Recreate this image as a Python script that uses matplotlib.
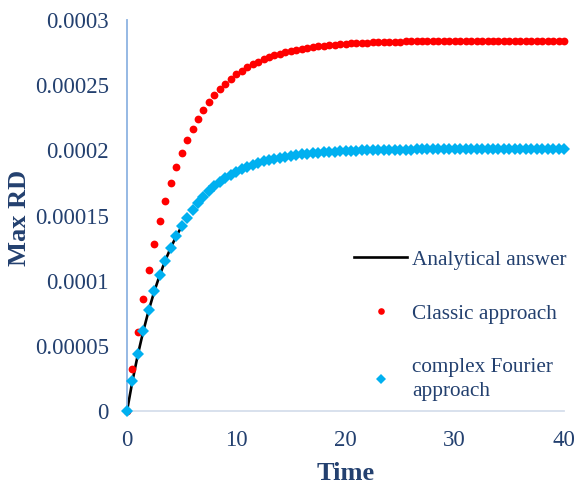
import matplotlib
matplotlib.use("Agg")
import matplotlib.pyplot as plt
import numpy as np

# Time axis (0 to 40, step 0.5)
time = np.arange(0, 40.5, 0.5)

# Classic approach, Max RD in units of 1e-6
classic_e6 = [
    0.0, 32.0, 60.4, 85.6, 108.0, 127.8, 145.5, 161.1, 175.0, 187.4,
    198.3, 208.0, 216.6, 224.2, 231.0, 237.0, 242.3, 247.0, 251.2, 254.9,
    258.2, 261.2, 263.8, 266.1, 268.1, 269.9, 271.5, 272.9, 274.1, 275.2,
    276.2, 277.1, 277.9, 278.6, 279.2, 279.8, 280.3, 280.7, 281.1, 281.5,
    281.8, 282.1, 282.3, 282.5, 282.7, 282.9, 283.0, 283.2, 283.3, 283.4,
    283.5, 283.6, 283.6, 283.7, 283.7, 283.8, 283.8, 283.8, 283.9, 283.9,
    283.9, 283.9, 284.0, 284.0, 284.0, 284.0, 284.0, 284.0, 284.1, 284.1,
    284.1, 284.1, 284.1, 284.1, 284.1, 284.1, 284.1, 284.1, 284.1, 284.1,
    284.1,
]

# Complex Fourier approach, Max RD in units of 1e-6
fourier_e6 = [
    0.0, 23.1, 43.5, 61.6, 77.6, 91.8, 104.3, 115.4, 125.2, 133.9,
    141.6, 148.4, 154.5, 159.8, 164.5, 168.7, 172.4, 175.7, 178.6, 181.2,
    183.5, 185.5, 187.3, 188.8, 190.2, 191.5, 192.6, 193.5, 194.4, 195.1,
    195.8, 196.4, 196.9, 197.4, 197.8, 198.2, 198.5, 198.8, 199.0, 199.3,
    199.5, 199.6, 199.8, 199.9, 200.1, 200.2, 200.3, 200.3, 200.4, 200.5,
    200.5, 200.6, 200.6, 200.7, 200.7, 200.7, 200.8, 200.8, 200.8, 200.8,
    200.9, 200.9, 200.9, 200.9, 200.9, 200.9, 201.0, 201.0, 201.0, 201.0,
    201.0, 201.0, 201.0, 201.0, 201.0, 201.0, 201.0, 201.0, 201.0, 201.0,
    201.0,
]

# Analytical answer (early times only)
analytic_time = [0.0, 0.5, 1.0, 1.5, 2.0, 2.5, 3.0, 3.5, 4.0, 4.5, 5.0]
analytic_e6 = [0.0, 23.1, 43.5, 61.6, 77.6, 91.8, 104.3, 115.4, 125.2, 133.9, 141.6]

classic = np.array(classic_e6) * 1e-6
fourier = np.array(fourier_e6) * 1e-6
analytic = np.array(analytic_e6) * 1e-6

text_color = "#23406F"
serif = ["Liberation Serif", "DejaVu Serif"]
plt.rcParams["font.family"] = serif

fig = plt.figure(figsize=(5.76, 4.87), dpi=100)
ax = fig.add_axes([127 / 576, 1 - 411 / 487, (564 - 127) / 576, (411 - 20) / 487])

ax.plot(analytic_time, analytic, color="black", lw=1.9, label="Analytical answer",
        zorder=2, clip_on=False)
ax.plot(time, classic, linestyle="none", marker="o", ms=5.6, color="#FF0000",
        markeredgewidth=0, label="Classic approach", zorder=3, clip_on=False)
ax.plot(time, fourier, linestyle="none", marker="D", ms=6.3, color="#00B0F0",
        markeredgewidth=0, label="complex Fourier\napproach", zorder=4, clip_on=False)

ax.set_xlim(0, 40)
ax.set_ylim(0, 0.0003)
ax.set_xticks([0, 10, 20, 30, 40])
ax.set_yticks([0, 0.00005, 0.0001, 0.00015, 0.0002, 0.00025, 0.0003])
ax.set_yticklabels(["0", "0.00005", "0.0001", "0.00015", "0.0002", "0.00025", "0.0003"])
ax.set_xticklabels(["0", "10", "20", "30", "40"])
ax.tick_params(axis="both", length=0, labelsize=16.5, labelcolor=text_color)
ax.tick_params(axis="y", pad=13)
ax.tick_params(axis="x", pad=14)

for s in ("top", "right"):
    ax.spines[s].set_visible(False)
ax.spines["left"].set_color("#8DB3E2")
ax.spines["left"].set_linewidth(1.3)
ax.spines["bottom"].set_color("#D6DEEC")
ax.spines["bottom"].set_linewidth(1.3)

fig.text(346 / 576, 1 - 473 / 487, "Time", ha="center", va="center",
         fontsize=19, fontweight="bold", color=text_color)
fig.text(20 / 576, 1 - 218 / 487, "Max RD", ha="center", va="center", rotation=90,
         fontsize=19, fontweight="bold", color=text_color)

leg = ax.legend(loc="upper left", bbox_to_anchor=(354 / 576, 1 - 250 / 487),
                bbox_transform=fig.transFigure, frameon=False, fontsize=15.3,
                handlelength=2.5, handletextpad=0.25, labelspacing=1.6,
                borderpad=0, borderaxespad=0, markerscale=0.85)
for t in leg.get_texts():
    t.set_color(text_color)
    t.set_linespacing(1.4)

fig.savefig("out.png", dpi=100)
